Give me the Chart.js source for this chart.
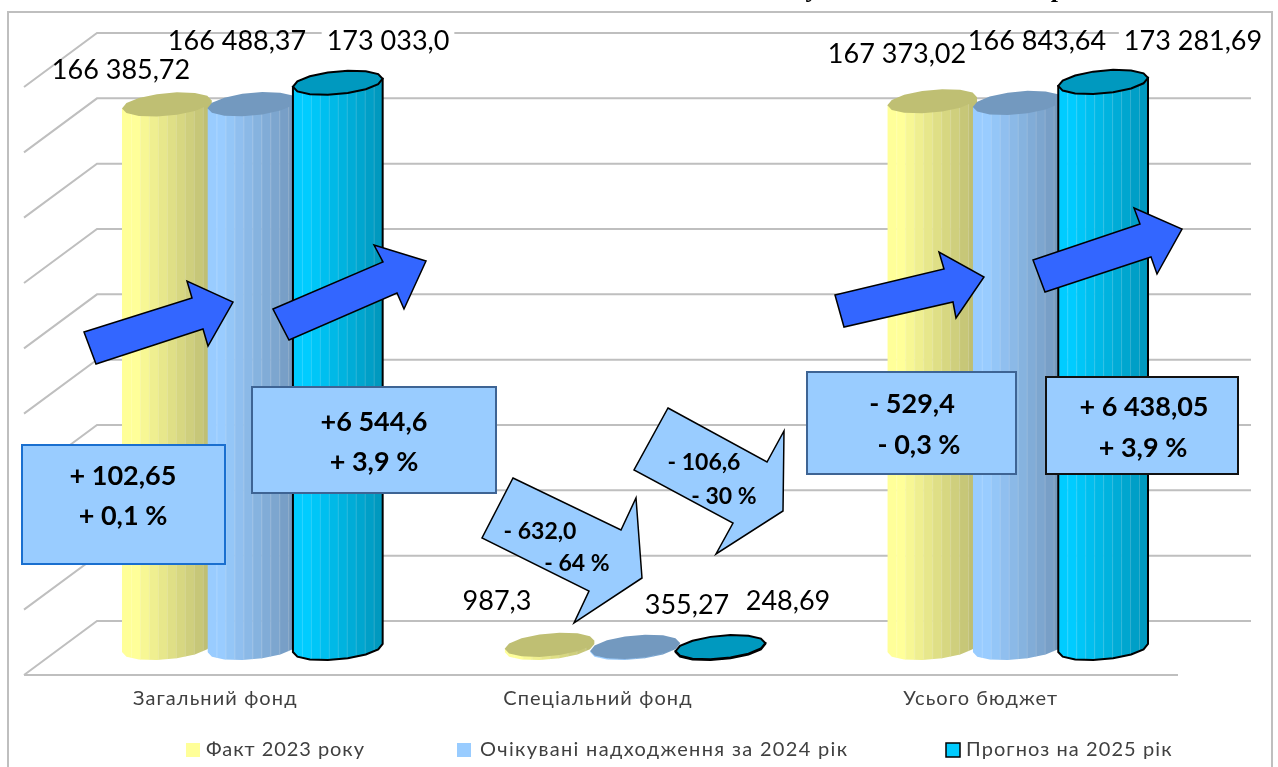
<!DOCTYPE html>
<html lang="uk">
<head>
<meta charset="utf-8">
<title>Бюджет</title>
<style>
  html, body { margin: 0; padding: 0; background: #fff; overflow: hidden; }
  canvas { display: block; }
</style>
<script src="https://cdn.jsdelivr.net/npm/chart.js@4/dist/chart.umd.min.js"></script>
</head>
<body>
<canvas id="chart" width="1278" height="767"></canvas>
<script>
"use strict";

/* ---------------- DATA ---------------- */

const categories = ["Загальний фонд", "Спеціальний фонд", "Усього бюджет"];

const fact2023 = [166385.72, 987.3, 167373.02];
const expected2024 = [166488.37, 355.27, 166843.64];
const forecast2025 = [173033.0, 248.69, 173281.69];

const seriesNames = ["Факт 2023 року", "Очікувані надходження за 2024 рік", "Прогноз на 2025 рік"];
const seriesColors = ["#FFFF99", "#99CCFF", "#00CCFF"];
const seriesDark = ["#BFBF73", "#7399BF", "#0099BF"];

const valueLabels = [
  ["166 385,72", "987,3", "167 373,02"],
  ["166 488,37", "355,27", "166 843,64"],
  ["173 033,0", "248,69", "173 281,69"],
];

/* ---------------- LAYOUT OF THE DRAWING ---------------- */

// the plot is a fake 3D box: cylinders stand half way in, the grid on the back wall
const WALL = { dx: 73, dy: -54 };
const MID = { dx: 37, dy: -27 };
const GRID_RIGHT = 1251;
const FLOOR_RIGHT = 1178;
const LINE_GREY = "#BFBFBF";
const FONT = "Lato, 'Open Sans', sans-serif";

// where each value label sits [centre x, centre y, white backing]
const labelSpots = [
  [[121, 70, false], [497, 601, false], [897, 54, false]],
  [[237, 41, false], [687, 605, false], [1037, 41, false]],
  [[388, 41, true], [788, 601, true], [1193, 41, true]],
];

const arrowFill = "#3366FF";
const upArrows = [
  [[84, 332], [192, 298], [187, 281], [233, 302], [208, 346], [203, 329], [96, 364]],
  [[273, 309], [383, 262], [374, 245], [426, 261], [404, 309], [397, 293], [289, 340]],
  [[835, 295], [944, 269], [939, 252], [984, 277], [956, 318], [953, 302], [844, 327]],
  [[1033, 260], [1140, 224], [1134, 208], [1182, 229], [1157, 274], [1151, 257], [1045, 292]],
];

const downArrows = [
  {
    shape: [[513, 478], [621, 530], [636, 498], [642, 578], [574, 623], [589, 591], [482, 538]],
    lines: [["- 632,0", 540, 532], ["- 64 %", 577, 564]],
  },
  {
    shape: [[668, 408], [767, 462], [784, 431], [783, 511], [716, 554], [733, 523], [634, 470]],
    lines: [["- 106,6", 704, 463], ["- 30 %", 724, 497]],
  },
];

const boxes = [
  { x: 22, y: 445, w: 203, h: 119, edge: "#1A6FCF", lines: [["+ 102,65", 123, 476], ["+ 0,1 %", 123, 516]] },
  { x: 252, y: 387, w: 244, h: 106, edge: "#3E6494", lines: [["+6 544,6", 374, 422], ["+ 3,9 %", 374, 462]] },
  { x: 807, y: 372, w: 209, h: 102, edge: "#3E6494", lines: [["- 529,4", 912, 404], ["- 0,3 %", 919, 445]] },
  { x: 1046, y: 377, w: 192, h: 97, edge: "#111111", lines: [["+ 6 438,05", 1144, 407], ["+ 3,9 %", 1143, 448]] },
];

const legendSpots = [186, 457, 946];
const legendGaps = [20, 23, 20];
const legendTracking = ["0.95px", "1.33px", "1.08px"];

/* ---------------- DRAW HELPERS ---------------- */

function mixColor(a, b, t) {
  const pa = [1, 3, 5].map(i => parseInt(a.slice(i, i + 2), 16));
  const pb = [1, 3, 5].map(i => parseInt(b.slice(i, i + 2), 16));
  const c = pa.map((v, i) => Math.round(v + (pb[i] - v) * t));
  return `rgb(${c[0]},${c[1]},${c[2]})`;
}

function ringPoint(cx, cy, rx, ry, angle) {
  const ox = rx * Math.cos(angle);
  return [cx + ox, cy + ry * Math.sin(angle) - 0.09 * ox];
}

function drawCylinder(ctx, bar, light, dark, outlined) {
  const cx = bar.x + MID.dx;
  const top = bar.y + MID.dy;
  const bottom = bar.base + MID.dy;
  const rx = bar.width / 2;
  const ry = 11.5;
  const steps = 14;
  const ring = [];
  for (let i = 0; i < steps; i++) ring.push((i / steps) * Math.PI * 2);

  // body: cap edge down to the lower rim of the base
  ctx.save();
  ctx.beginPath();
  const start = ringPoint(cx, top, rx, ry, Math.PI);
  ctx.moveTo(start[0], start[1]);
  for (let i = steps / 2; i >= 0; i--) {
    const p = ringPoint(cx, bottom, rx, ry, (i / steps) * Math.PI * 2);
    ctx.lineTo(p[0], p[1]);
  }
  const end = ringPoint(cx, top, rx, ry, 0);
  ctx.lineTo(end[0], end[1]);
  ctx.closePath();

  ctx.save();
  ctx.clip();
  const bands = 10;
  for (let k = 0; k < bands; k++) {
    const x0 = cx - rx + (k / bands) * rx * 2;
    const t = Math.max(0, k - 1) / (bands - 2);
    ctx.fillStyle = mixColor(light, dark, Math.min(1, t));
    ctx.fillRect(x0, top - ry - 8, rx * 2 / bands + 0.5, bottom - top + ry * 2 + 20);
    if (k > 0) {
      ctx.fillStyle = "rgba(255,255,255,0.18)";
      ctx.fillRect(x0, top - ry - 8, 1, bottom - top + ry * 2 + 20);
    }
  }
  ctx.restore();

  if (outlined) {
    ctx.strokeStyle = "#000";
    ctx.lineWidth = 2;
    ctx.stroke();
  }

  // cap
  ctx.beginPath();
  ring.forEach((a, i) => {
    const p = ringPoint(cx, top, rx, ry, a);
    if (i === 0) ctx.moveTo(p[0], p[1]);
    else ctx.lineTo(p[0], p[1]);
  });
  ctx.closePath();
  ctx.fillStyle = dark;
  ctx.fill();
  if (outlined) ctx.stroke();
  ctx.restore();
}

function drawPoly(ctx, points, fill) {
  ctx.beginPath();
  points.forEach((p, i) => {
    if (i === 0) ctx.moveTo(p[0], p[1]);
    else ctx.lineTo(p[0], p[1]);
  });
  ctx.closePath();
  ctx.fillStyle = fill;
  ctx.fill();
  ctx.strokeStyle = "#000";
  ctx.lineWidth = 1.5;
  ctx.stroke();
}

function drawLines(ctx, lines, font) {
  ctx.fillStyle = "#000";
  ctx.font = font;
  ctx.textAlign = "center";
  ctx.textBaseline = "middle";
  lines.forEach(l => ctx.fillText(l[0], l[1], l[2]));
}

/* ---------------- PLUGIN ---------------- */

const backdrop = {
  id: "backdrop",
  beforeDraw(chart) {
    const ctx = chart.ctx;
    ctx.letterSpacing = "1.1px"; // category labels are spaced out in the original

    ctx.save();
    ctx.letterSpacing = "0px";
    // scraps of the cut-off heading above the frame
    ctx.fillStyle = "#000";
    ctx.font = "bold 26px 'Liberation Serif', serif";
    ctx.textAlign = "center";
    ctx.textBaseline = "alphabetic";
    ctx.fillText("у", 812, -3);
    ctx.fillText(",", 943, -4);
    ctx.fillText("р", 1058, -3);

    // outer frame runs off the bottom of the page
    ctx.strokeStyle = LINE_GREY;
    ctx.lineWidth = 2;
    ctx.strokeRect(8, 12, 1264, 800);
    ctx.restore();
  },
  beforeDatasetsDraw(chart) {
    const ctx = chart.ctx;
    const { x: xScale, y: yScale } = chart.scales;
    ctx.save();
    ctx.letterSpacing = "0px";
    ctx.strokeStyle = LINE_GREY;
    ctx.lineWidth = 2;
    ctx.beginPath();
    yScale.ticks.forEach(t => {
      const py = yScale.getPixelForValue(t.value);
      ctx.moveTo(xScale.left, py);
      ctx.lineTo(xScale.left + WALL.dx, py + WALL.dy);
      ctx.lineTo(GRID_RIGHT, py + WALL.dy);
    });
    const floor = yScale.getPixelForValue(0);
    ctx.moveTo(xScale.left, floor);
    ctx.lineTo(FLOOR_RIGHT, floor);
    ctx.stroke();

    // cylinders, front series last
    chart.data.datasets.forEach((ds, i) => {
      chart.getDatasetMeta(i).data.forEach(bar => {
        drawCylinder(ctx, bar, seriesColors[i], seriesDark[i], ds.borderWidth > 0);
      });
    });
    ctx.restore();
  },
  beforeDatasetDraw() {
    return false; // plain rectangles stay undrawn, drawCylinder replaces them
  },
  afterDraw(chart) {
    const ctx = chart.ctx;
    ctx.save();
    ctx.letterSpacing = "0px";

    // value labels
    ctx.font = `27px ${FONT}`;
    ctx.textAlign = "center";
    ctx.textBaseline = "middle";
    valueLabels.forEach((row, i) => {
      row.forEach((text, j) => {
        const [x, y, backed] = labelSpots[i][j];
        if (backed) {
          const w = ctx.measureText(text).width;
          ctx.fillStyle = "#fff";
          ctx.fillRect(x - w / 2 - 5, y - 18, w + 10, 36);
        }
        ctx.fillStyle = "#000";
        ctx.fillText(text, x, y);
      });
    });

    upArrows.forEach(a => drawPoly(ctx, a, arrowFill));
    downArrows.forEach(a => {
      drawPoly(ctx, a.shape, seriesColors[1]);
      drawLines(ctx, a.lines, `bold 23px ${FONT}`);
    });
    boxes.forEach(b => {
      ctx.fillStyle = seriesColors[1];
      ctx.fillRect(b.x, b.y, b.w, b.h);
      ctx.strokeStyle = b.edge;
      ctx.lineWidth = 2;
      ctx.strokeRect(b.x, b.y, b.w, b.h);
      drawLines(ctx, b.lines, `bold 27px ${FONT}`);
    });

    // legend
    chart.data.datasets.forEach((ds, i) => {
      const x = legendSpots[i];
      ctx.fillStyle = ds.backgroundColor;
      ctx.fillRect(x, 743, 14, 14);
      if (ds.borderWidth > 0) {
        ctx.strokeStyle = ds.borderColor;
        ctx.lineWidth = 1.5;
        ctx.strokeRect(x, 743, 14, 14);
      }
      ctx.fillStyle = "#404040";
      ctx.font = `20px ${FONT}`;
      ctx.letterSpacing = legendTracking[i];
      ctx.textAlign = "left";
      ctx.textBaseline = "middle";
      ctx.fillText(ds.label, x + legendGaps[i], 750);
    });
    ctx.restore();
  },
};

/* ---------------- CHART ---------------- */

const allSeries = [fact2023, expected2024, forecast2025];

new Chart(document.getElementById("chart"), {
  type: "bar",
  data: {
    labels: categories,
    datasets: allSeries.map((values, i) => ({
      label: seriesNames[i],
      data: values,
      backgroundColor: seriesColors[i],
      borderColor: "#000",
      borderWidth: i === 2 ? 2 : 0,
      categoryPercentage: 0.67,
      barPercentage: 1.05,
    })),
  },
  options: {
    responsive: false,
    animation: false,
    layout: { padding: { left: 24, right: 106, top: 87, bottom: 42 } },
    plugins: { legend: { display: false }, tooltip: { enabled: false } },
    scales: {
      x: {
        grid: { display: false },
        border: { display: false },
        afterFit(scale) { scale.height = 50; },
        ticks: { color: "#404040", font: { family: FONT, size: 20 }, padding: 4, maxRotation: 0 },
      },
      y: {
        display: false,
        min: 0,
        max: 180000,
        ticks: { stepSize: 20000 },
      },
    },
  },
  plugins: [backdrop],
});
</script>
</body>
</html>
